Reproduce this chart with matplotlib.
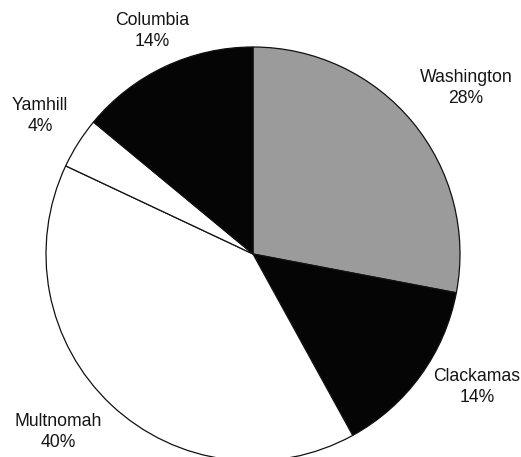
import numpy as np
import matplotlib.pyplot as plt

# county shares (percent), clockwise from 12 o'clock
counties = ['Washington', 'Clackamas', 'Multnomah', 'Yamhill', 'Columbia']
shares = [28, 14, 40, 4, 14]
colors = ['#9b9b9b', '#050505', '#ffffff', '#ffffff', '#050505']

plt.rcParams['font.family'] = ['Liberation Sans', 'DejaVu Sans']

W, H, DPI = 521, 457, 100
fig = plt.figure(figsize=(W / DPI, H / DPI), dpi=DPI)
ax = fig.add_axes([0, 0, 1, 1])

wedges, _ = ax.pie(shares, colors=colors, startangle=90, counterclock=False,
                   wedgeprops=dict(edgecolor='#111111', linewidth=0.9))

# label placement tweaks: radial distance and angle shift (deg) per wedge
label_dist = [1.305, 1.258, 1.275, 1.226, 1.183]
label_shift = [-1.7, 5.3, -4.4, -0.5, -0.8]

for w, name, val, d, s in zip(wedges, counties, shares, label_dist, label_shift):
    ang = np.deg2rad((w.theta1 + w.theta2) / 2 + s)
    ax.text(d * np.cos(ang), d * np.sin(ang), f'{name}\n{val}%',
            ha='center', va='center', fontsize=12.7, color='#151515',
            linespacing=1.27)

# pie centre at (253, 254) px from top-left, radius ~207 px
R = 207.0
cx, cy = 253.0, 254.0
ax.set_xlim(-cx / R, (W - cx) / R)
ax.set_ylim(-(H - cy) / R, cy / R)
ax.set_aspect('auto')
ax.axis('off')

fig.savefig('out.png', dpi=DPI, facecolor='white')
